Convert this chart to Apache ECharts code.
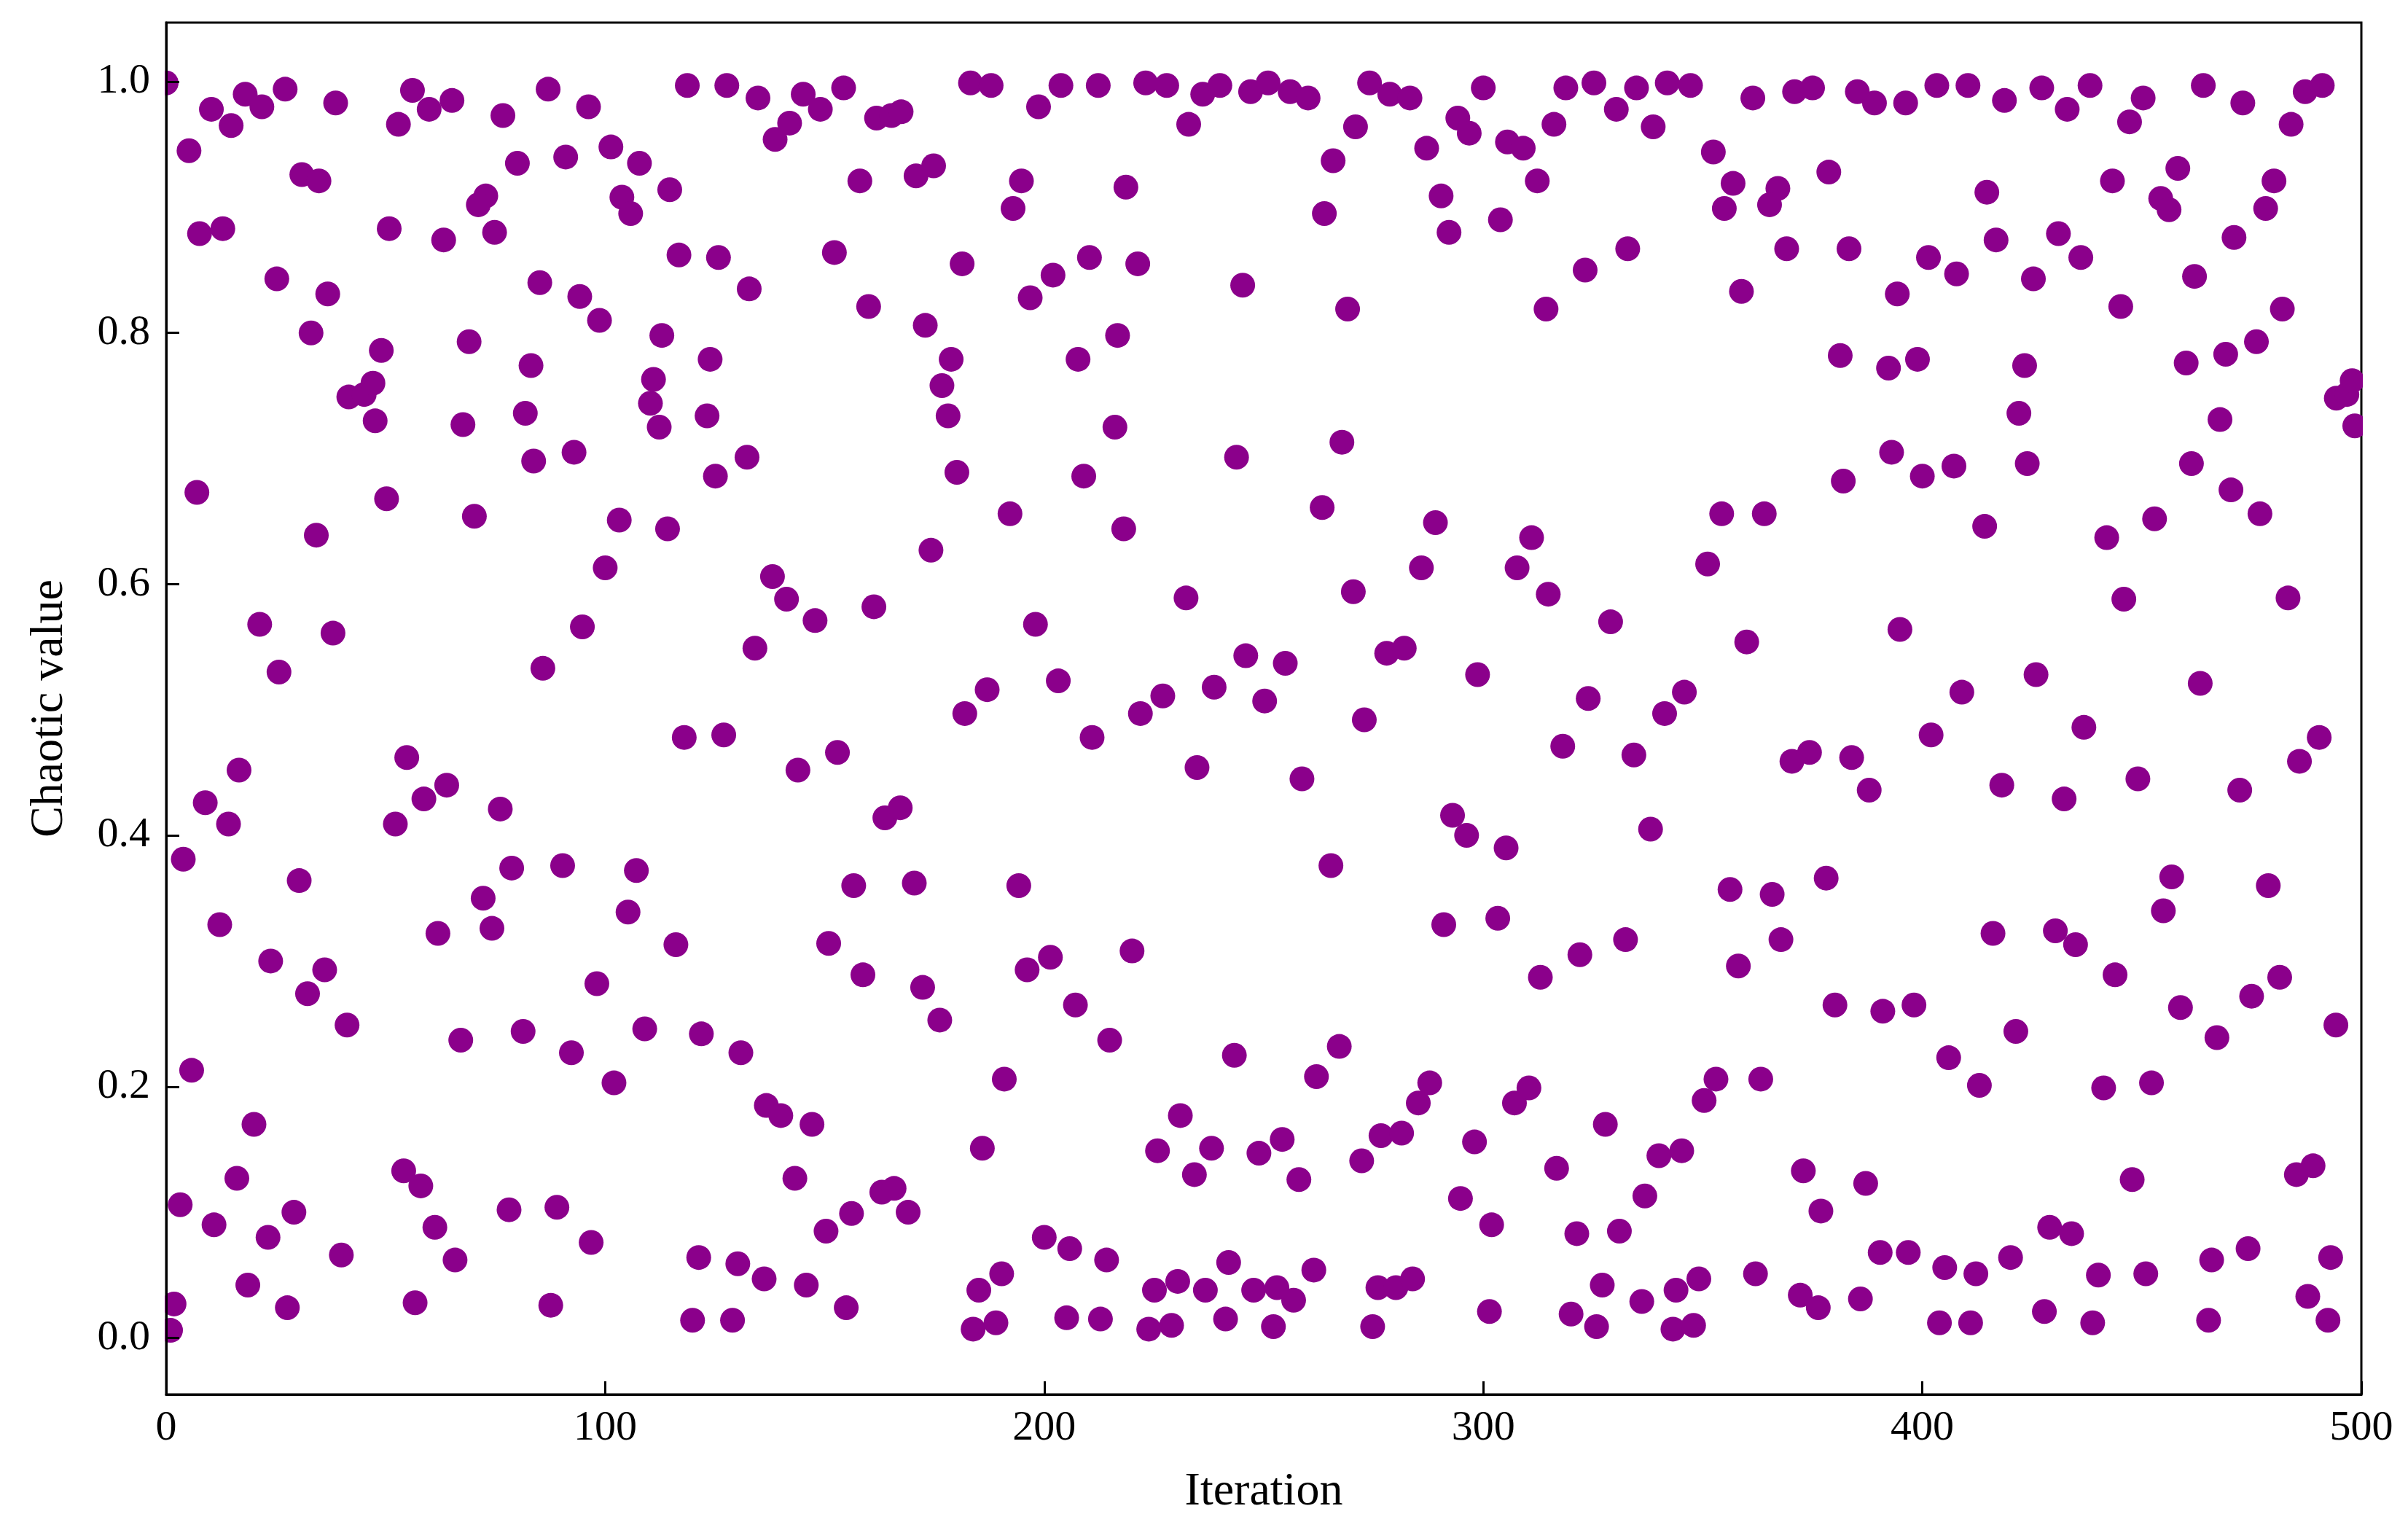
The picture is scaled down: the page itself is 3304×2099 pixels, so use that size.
<!DOCTYPE html>
<html>
<head>
<meta charset="utf-8">
<title>Chaotic value</title>
<script src="https://cdn.jsdelivr.net/npm/echarts@6/dist/echarts.min.js"></script>
<style>
  html, body { margin: 0; padding: 0; background: #fff; }
  #chart { width: 3304px; height: 2099px; }
</style>
</head>
<body>
<div id="chart"></div>
<script>
// points: [iteration, chaotic value]
var chaoticPoints = [
  // 0 - 83, upper half
  [0, 0.999], [5.2, 0.945], [10.3, 0.978], [14.8, 0.965], [18.0, 0.990], [21.8, 0.980], [27.1, 0.994], [38.6, 0.983],
  [30.9, 0.926], [34.8, 0.921], [7.6, 0.879], [12.9, 0.883], [25.2, 0.843], [36.8, 0.831], [33.0, 0.800], [49.0, 0.786],
  [41.6, 0.749], [45.1, 0.751], [47.1, 0.760], [47.6, 0.730], [56.1, 0.993], [52.9, 0.966], [59.9, 0.978], [65.1, 0.985],
  [76.7, 0.973], [80.0, 0.935], [72.8, 0.909], [71.1, 0.902], [50.8, 0.883], [63.2, 0.874], [74.8, 0.880], [69.0, 0.793],
  [83.1, 0.774], [81.8, 0.736], [67.6, 0.727], [83.7, 0.698], [7.0, 0.673], [50.2, 0.668], [70.2, 0.654], [34.2, 0.639],
  [21.3, 0.568], [38.0, 0.561], [25.7, 0.530],
  // 0 - 83, lower half
  [16.6, 0.452], [8.9, 0.426], [14.2, 0.409], [3.9, 0.381], [30.3, 0.364], [12.2, 0.329], [23.8, 0.300], [36.1, 0.293],
  [32.2, 0.274], [41.2, 0.249], [5.8, 0.213], [20.0, 0.170], [16.1, 0.127], [3.2, 0.106], [10.9, 0.090], [23.2, 0.080],
  [29.1, 0.100], [39.9, 0.066], [18.6, 0.042], [27.6, 0.024], [1.8, 0.027], [1.0, 0.006], [54.8, 0.462], [58.7, 0.429],
  [63.9, 0.440], [52.2, 0.409], [76.1, 0.421], [78.7, 0.374], [72.2, 0.350], [74.2, 0.326], [61.9, 0.322], [67.1, 0.237],
  [81.3, 0.244], [54.1, 0.133], [58.0, 0.121], [61.2, 0.088], [65.8, 0.062], [78.1, 0.102], [56.7, 0.028],
  // 84 - 166, upper half
  [87.0, 0.994], [96.2, 0.980], [91.0, 0.940], [101.3, 0.948], [107.8, 0.935], [103.8, 0.908], [105.8, 0.895], [114.7, 0.914],
  [85.1, 0.840], [94.2, 0.829], [98.7, 0.810], [112.9, 0.798], [123.9, 0.779], [111.0, 0.763], [110.3, 0.744], [112.3, 0.725],
  [123.2, 0.734], [92.9, 0.705], [125.1, 0.686], [132.3, 0.701], [103.2, 0.651], [114.2, 0.644], [100.0, 0.613], [94.8, 0.566],
  [85.8, 0.533], [118.7, 0.997], [127.7, 0.997], [134.8, 0.987], [145.1, 0.990], [149.0, 0.978], [154.3, 0.995], [142.0, 0.967],
  [138.7, 0.954], [161.8, 0.971], [165.2, 0.973], [158.0, 0.921], [152.2, 0.864], [132.8, 0.835], [125.8, 0.860], [116.8, 0.862],
  [160.0, 0.821], [138.1, 0.606], [141.3, 0.588], [147.8, 0.571], [161.2, 0.582], [134.1, 0.549],
  // 84 - 166, lower half
  [118.0, 0.478], [127.0, 0.480], [143.9, 0.452], [152.9, 0.466], [163.7, 0.414], [90.3, 0.376], [107.1, 0.372], [105.2, 0.339],
  [116.1, 0.313], [156.6, 0.360], [150.9, 0.314], [158.7, 0.289], [98.1, 0.282], [92.3, 0.227], [109.0, 0.246], [102.0, 0.203],
  [121.9, 0.242], [130.9, 0.227], [136.7, 0.185], [140.0, 0.177], [147.1, 0.170], [143.2, 0.127], [89.0, 0.104], [96.8, 0.076],
  [87.6, 0.026], [121.3, 0.064], [130.2, 0.059], [136.2, 0.047], [145.8, 0.042], [150.3, 0.085], [156.1, 0.099], [163.0, 0.116],
  [165.8, 0.119], [154.9, 0.024], [119.9, 0.014], [129.0, 0.014],
  // 167 - 249, upper half
  [167.4, 0.976], [183.2, 0.999], [187.9, 0.997], [198.7, 0.980], [203.8, 0.997], [212.3, 0.997], [223.1, 0.999], [227.9, 0.997],
  [236.1, 0.990], [240.0, 0.997], [232.9, 0.966], [247.0, 0.992], [170.8, 0.925], [174.8, 0.933], [194.8, 0.921], [192.9, 0.899],
  [218.6, 0.916], [181.3, 0.855], [202.0, 0.846], [196.8, 0.828], [210.3, 0.860], [221.3, 0.855], [245.2, 0.838], [172.9, 0.806],
  [178.8, 0.779], [176.7, 0.758], [178.1, 0.734], [207.7, 0.779], [216.7, 0.798], [216.1, 0.725], [180.1, 0.689], [209.0, 0.686],
  [243.8, 0.701], [192.2, 0.656], [218.1, 0.644], [174.2, 0.627], [232.3, 0.589], [198.0, 0.568], [203.2, 0.523], [187.0, 0.516],
  [227.0, 0.511], [238.7, 0.518], [245.9, 0.543],
  // 167 - 249, lower half
  [181.9, 0.497], [221.9, 0.497], [210.9, 0.478], [234.8, 0.454], [167.2, 0.422], [170.4, 0.362], [194.2, 0.360], [172.3, 0.279],
  [176.2, 0.253], [196.1, 0.293], [201.4, 0.303], [207.1, 0.265], [214.9, 0.237], [220.0, 0.308], [243.3, 0.225], [190.9, 0.206],
  [231.0, 0.177], [185.9, 0.151], [225.8, 0.149], [238.1, 0.151], [234.2, 0.130], [248.9, 0.147], [169.0, 0.100], [200.0, 0.080],
  [205.8, 0.071], [214.2, 0.062], [190.3, 0.051], [185.1, 0.038], [183.8, 0.007], [189.0, 0.012], [205.1, 0.016], [212.8, 0.015],
  [225.1, 0.038], [230.4, 0.045], [223.8, 0.007], [229.0, 0.010], [236.7, 0.038], [242.0, 0.060], [241.3, 0.015], [247.7, 0.038],
  // 250 - 332, upper half
  [251.0, 0.999], [256.0, 0.992], [260.1, 0.987], [274.1, 0.999], [278.7, 0.990], [283.3, 0.987], [270.9, 0.964], [265.8, 0.937],
  [263.8, 0.895], [300.0, 0.995], [287.1, 0.947], [294.2, 0.971], [296.8, 0.959], [305.5, 0.952], [309.1, 0.947], [312.3, 0.921],
  [290.4, 0.909], [292.2, 0.880], [303.9, 0.890], [316.1, 0.966], [318.8, 0.995], [325.2, 0.999], [330.3, 0.978], [323.2, 0.850],
  [314.3, 0.819], [269.1, 0.819], [267.8, 0.713], [263.3, 0.661], [289.1, 0.649], [285.9, 0.613], [270.4, 0.594], [311.0, 0.637],
  [307.7, 0.613], [314.8, 0.592], [329.0, 0.570], [278.0, 0.545], [282.0, 0.549], [254.9, 0.537], [250.2, 0.507], [298.7, 0.528],
  [323.9, 0.509],
  // 250 - 332, lower half
  [272.9, 0.492], [258.7, 0.445], [318.1, 0.471], [265.3, 0.376], [293.0, 0.416], [296.2, 0.400], [305.2, 0.390], [291.0, 0.329],
  [303.3, 0.334], [313.0, 0.287], [322.0, 0.305], [267.2, 0.232], [262.0, 0.208], [287.8, 0.203], [285.2, 0.187], [310.4, 0.199],
  [307.1, 0.187], [327.8, 0.170], [254.2, 0.158], [258.0, 0.126], [272.3, 0.141], [276.7, 0.161], [281.4, 0.163], [298.0, 0.156],
  [316.7, 0.135], [294.8, 0.111], [301.9, 0.090], [321.3, 0.083], [331.0, 0.085], [253.0, 0.040], [252.2, 0.009], [256.8, 0.030],
  [261.4, 0.054], [276.0, 0.040], [280.1, 0.040], [283.9, 0.047], [274.8, 0.009], [301.4, 0.021], [320.0, 0.019], [325.8, 0.009],
  [327.1, 0.042],
  // 333 - 415, upper half
  [334.9, 0.995], [332.9, 0.867], [338.7, 0.964], [341.9, 0.999], [347.2, 0.997], [361.4, 0.987], [352.4, 0.944], [356.9, 0.919],
  [354.9, 0.899], [367.1, 0.915], [365.2, 0.902], [370.9, 0.992], [375.0, 0.995], [378.7, 0.928], [385.2, 0.992], [389.1, 0.983],
  [396.2, 0.983], [403.3, 0.997], [410.4, 0.997], [369.1, 0.867], [383.3, 0.867], [358.8, 0.833], [394.3, 0.831], [401.4, 0.860],
  [407.8, 0.847], [414.7, 0.912], [381.3, 0.782], [392.3, 0.772], [398.9, 0.779], [393.0, 0.705], [382.0, 0.682], [400.0, 0.686],
  [407.2, 0.694], [354.3, 0.656], [364.0, 0.656], [414.2, 0.646], [351.1, 0.616], [360.0, 0.554], [394.9, 0.564], [345.8, 0.514],
  [409.0, 0.514],
  // 333 - 415, lower half
  [341.3, 0.497], [334.3, 0.464], [402.0, 0.480], [338.1, 0.405], [370.3, 0.459], [374.3, 0.466], [383.9, 0.462], [387.9, 0.436],
  [356.2, 0.357], [365.8, 0.353], [378.1, 0.366], [332.4, 0.317], [358.1, 0.296], [367.8, 0.317], [380.1, 0.265], [391.0, 0.260],
  [398.1, 0.265], [406.0, 0.223], [413.0, 0.201], [353.0, 0.206], [350.3, 0.189], [363.2, 0.206], [340.0, 0.145], [345.2, 0.149],
  [336.8, 0.113], [372.9, 0.133], [376.9, 0.101], [387.1, 0.123], [336.1, 0.029], [343.9, 0.038], [349.1, 0.047], [343.2, 0.007],
  [347.9, 0.010], [362.0, 0.051], [372.2, 0.034], [376.3, 0.024], [385.9, 0.031], [390.4, 0.068], [396.8, 0.068], [405.1, 0.056],
  [412.2, 0.051], [403.9, 0.012], [411.0, 0.012],
  // 416 - 499, upper half
  [418.7, 0.985], [427.2, 0.995], [433.0, 0.978], [438.2, 0.997], [450.3, 0.987], [447.2, 0.968], [464.0, 0.997], [473.0, 0.983],
  [487.2, 0.992], [491.1, 0.997], [484.0, 0.966], [416.8, 0.874], [443.3, 0.921], [431.0, 0.879], [436.1, 0.860], [425.3, 0.843],
  [445.2, 0.821], [458.2, 0.931], [454.3, 0.907], [456.2, 0.898], [480.1, 0.921], [478.2, 0.899], [471.0, 0.876], [462.0, 0.845],
  [482.0, 0.819], [423.3, 0.774], [422.0, 0.736], [423.9, 0.696], [460.1, 0.776], [469.1, 0.783], [476.1, 0.793], [467.8, 0.731],
  [461.3, 0.696], [470.3, 0.675], [476.9, 0.656], [494.3, 0.748], [496.7, 0.751], [497.9, 0.762], [498.5, 0.726], [442.0, 0.637],
  [452.9, 0.652], [445.9, 0.588], [483.3, 0.589], [425.9, 0.528], [463.3, 0.521],
  // 416 - 499, lower half
  [436.8, 0.486], [418.1, 0.440], [432.3, 0.429], [449.1, 0.445], [472.3, 0.436], [485.9, 0.459], [490.4, 0.478], [456.8, 0.367],
  [454.9, 0.340], [478.8, 0.360], [416.1, 0.322], [430.3, 0.324], [434.9, 0.313], [443.9, 0.289], [458.8, 0.263], [467.1, 0.239],
  [475.0, 0.272], [481.4, 0.287], [494.2, 0.249], [421.3, 0.244], [441.3, 0.199], [452.2, 0.203], [447.8, 0.126], [485.2, 0.130],
  [489.0, 0.137], [429.0, 0.088], [434.0, 0.083], [420.1, 0.064], [440.1, 0.050], [450.9, 0.051], [465.9, 0.062], [474.2, 0.071],
  [493.0, 0.064], [487.8, 0.033], [492.4, 0.014], [427.8, 0.021], [438.8, 0.012], [465.2, 0.014]
];

var xTickValues = [0, 100, 200, 300, 400, 500];
var yTickValues = [0.0, 0.2, 0.4, 0.6, 0.8, 1.0];

var W = 3304, H = 2099;
var gridLeft = 228, gridRight = 64, gridTop = 31, gridBottom = 186;
var plotRight = W - gridRight, plotBottom = H - gridBottom;
var serif = 'Liberation Serif';

// white bands outside the frame so edge dots look clipped like the original
function band(x, y, w, h) {
  return { type: 'rect', z: 5, silent: true, shape: { x: x, y: y, width: w, height: h }, style: { fill: '#fff' } };
}

var chart = echarts.init(document.getElementById('chart'));
chart.setOption({
  backgroundColor: '#fff',
  animation: false,
  grid: {
    left: gridLeft, right: gridRight, top: gridTop, bottom: gridBottom,
    show: true, borderColor: '#000', borderWidth: 3, backgroundColor: 'transparent'
  },
  xAxis: {
    type: 'value',
    min: 0, max: 500,
    z: 10,
    name: 'Iteration',
    nameLocation: 'middle',
    nameGap: 102,
    nameTextStyle: { fontFamily: serif, fontSize: 64, color: '#000' },
    axisLine: { show: true, onZero: false, lineStyle: { color: '#000', width: 3 } },
    axisTick: { show: true, inside: true, length: 18, customValues: xTickValues, lineStyle: { color: '#000', width: 3 } },
    axisLabel: { customValues: xTickValues, margin: 18, fontFamily: serif, fontSize: 58, color: '#000' },
    splitLine: { show: false }
  },
  yAxis: {
    type: 'value',
    min: -0.045, max: 1.047,
    z: 10,
    name: 'Chaotic value',
    nameLocation: 'middle',
    nameGap: 128,
    nameTextStyle: { fontFamily: serif, fontSize: 64, color: '#000' },
    axisLine: { show: true, onZero: false, lineStyle: { color: '#000', width: 3 } },
    axisTick: { show: true, inside: true, length: 18, customValues: yTickValues, lineStyle: { color: '#000', width: 3 } },
    axisLabel: {
      customValues: yTickValues, margin: 22, fontFamily: serif, fontSize: 58, color: '#000',
      formatter: function (v) { return v.toFixed(1); }
    },
    splitLine: { show: false }
  },
  graphic: [
    band(gridLeft - 42, gridTop - 42, 40, plotBottom - gridTop + 84),
    band(plotRight + 2, gridTop - 42, 40, plotBottom - gridTop + 84),
    band(gridLeft - 42, gridTop - 42, plotRight - gridLeft + 84, 40),
    band(gridLeft - 42, plotBottom + 2, plotRight - gridLeft + 84, 40)
  ],
  series: [{
    type: 'scatter',
    data: chaoticPoints,
    symbol: 'circle',
    symbolSize: 34,
    itemStyle: { color: '#8B008B', opacity: 1 },
    silent: true,
    z: 2
  }]
});
</script>
</body>
</html>
